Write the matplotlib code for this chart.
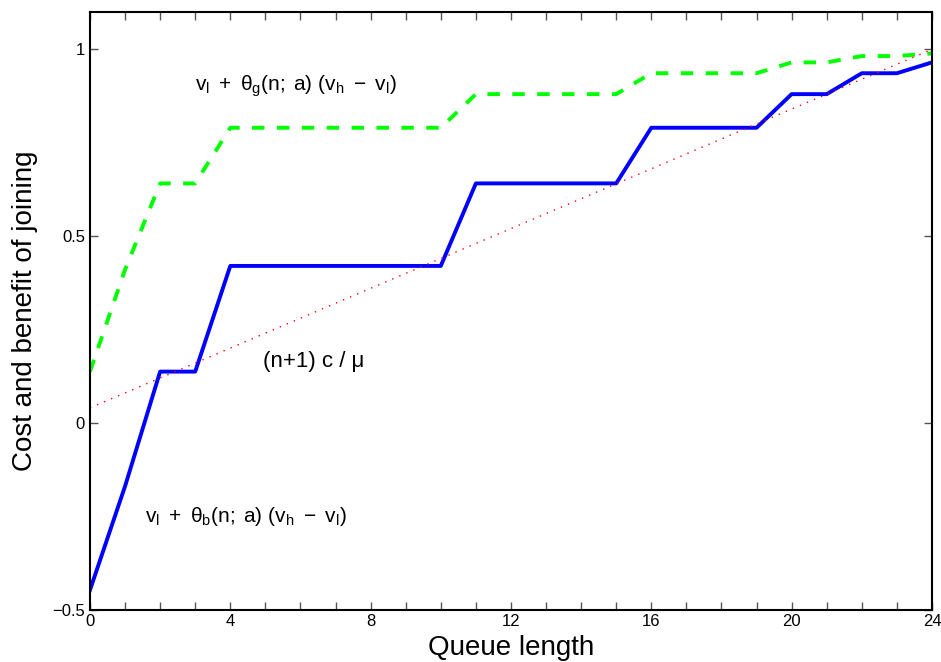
import matplotlib
matplotlib.use('Agg')
import matplotlib.pyplot as plt
from matplotlib.ticker import MultipleLocator

plt.rcParams['font.family'] = ['Liberation Sans', 'DejaVu Sans']
plt.rcParams['mathtext.fontset'] = 'custom'
plt.rcParams['mathtext.rm'] = 'Liberation Sans'
plt.rcParams['mathtext.it'] = 'Liberation Sans'

# queue length
n = list(range(25))

# v_l + theta_b(n; a) (v_h - v_l)
bad = [-0.448, -0.17, 0.137, 0.137, 0.42, 0.42, 0.42, 0.42, 0.42, 0.42, 0.42,
       0.641, 0.641, 0.641, 0.641, 0.641, 0.79, 0.79, 0.79, 0.79, 0.88, 0.88,
       0.936, 0.936, 0.965]

# v_l + theta_g(n; a) (v_h - v_l)
good = [0.137, 0.41, 0.641, 0.641, 0.79, 0.79, 0.79, 0.79, 0.79, 0.79, 0.79,
        0.88, 0.88, 0.88, 0.88, 0.88, 0.936, 0.936, 0.936, 0.936, 0.965, 0.965,
        0.982, 0.982, 0.989]

# (n+1) c / mu
cost_n = [0, 24]
cost = [0.04, 1.0]

fig = plt.figure(figsize=(9.41, 6.62), dpi=100)
ax = fig.add_axes([0.0956, 0.0793, 0.8948, 0.9026])

ax.plot(n, bad, color='#0000ff', lw=2.8)
ax.plot(n, good, color='#00ff00', lw=2.8, dashes=(3.2, 3.2))
ax.plot(cost_n, cost, color='#ff0000', lw=1.0, linestyle=(0, (1, 4.5)))

lbl_g = r'$\mathregular{v_l\ +\ \theta_g(n;\;a)\ (v_h\ -\ v_l)}$'
lbl_b = r'$\mathregular{v_l\ +\ \theta_b(n;\;a)\ (v_h\ -\ v_l)}$'
ax.text(3.0, 0.90, lbl_g, fontsize=15, va='center', ha='left')
ax.text(4.93, 0.164, '(n+1) c / \u03bc', fontsize=16, va='center', ha='left')
ax.text(1.57, -0.25, lbl_b, fontsize=15, va='center', ha='left')

ax.set_xlim(0, 24)
ax.set_ylim(-0.5, 1.1)
ax.set_xticks([0, 4, 8, 12, 16, 20, 24])
ax.xaxis.set_minor_locator(MultipleLocator(1))
ax.set_yticks([-0.5, 0, 0.5, 1])
ax.set_yticklabels(['\u22120.5', '0', '0.5', '1'])
ax.tick_params(which='both', direction='in', top=True, right=True,
               labelsize=12, width=1.0, color='#555555')
ax.tick_params(which='major', length=6)
ax.tick_params(which='minor', length=6)
for s in ax.spines.values():
    s.set_linewidth(1.5)

ax.set_xlabel('Queue length', fontsize=20, labelpad=4)
ax.set_ylabel('Cost and benefit of joining', fontsize=20, labelpad=10)

fig.savefig('out.png', dpi=100)
